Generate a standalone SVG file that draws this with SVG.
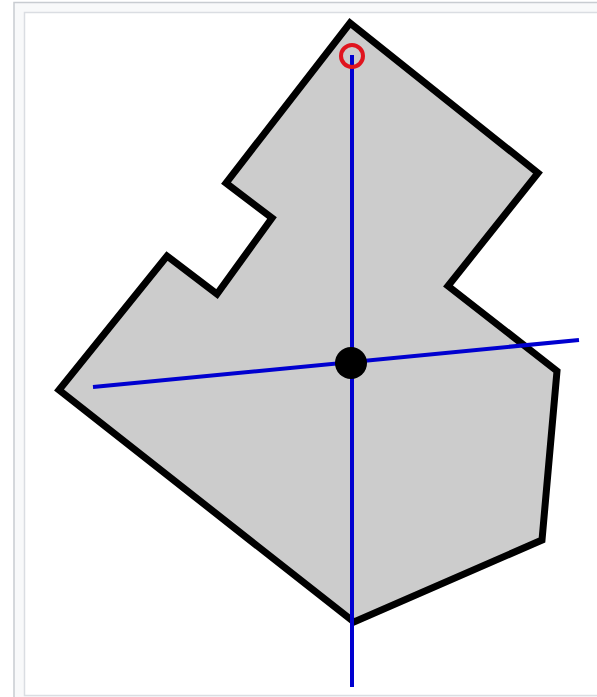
<svg xmlns="http://www.w3.org/2000/svg" width="597" height="697" viewBox="0 0 597 697">
<style>
.axis{stroke:#0000d0;stroke-width:4;stroke-linecap:butt;fill:none}
</style>
<rect x="14" y="2.5" width="600" height="700" fill="#f8f9fa" stroke="#c8ccd1" stroke-width="1.5"/>
<rect x="24.5" y="12.5" width="600" height="683" fill="#ffffff" stroke="#dadde2" stroke-width="1.5"/>
<g id="polygon">
<polygon points="350,23 538,173 448,286 557,371 542,540 354,622 59,390 167,256 217,294 272,218 226,183" fill="#cccccc" stroke="#000" stroke-width="7" stroke-linejoin="miter"/>
</g>
<g id="connectors">
<line class="axis" x1="352" y1="55" x2="352" y2="687"/>
<line class="axis" x1="93" y1="387" x2="579" y2="340"/>
</g>
<g id="centroid">
<circle cx="351" cy="363" r="16" fill="#000"/>
</g>
<g id="top-marker">
<circle cx="352" cy="56" r="11" fill="none" stroke="#e0141e" stroke-width="4"/>
</g>
</svg>
